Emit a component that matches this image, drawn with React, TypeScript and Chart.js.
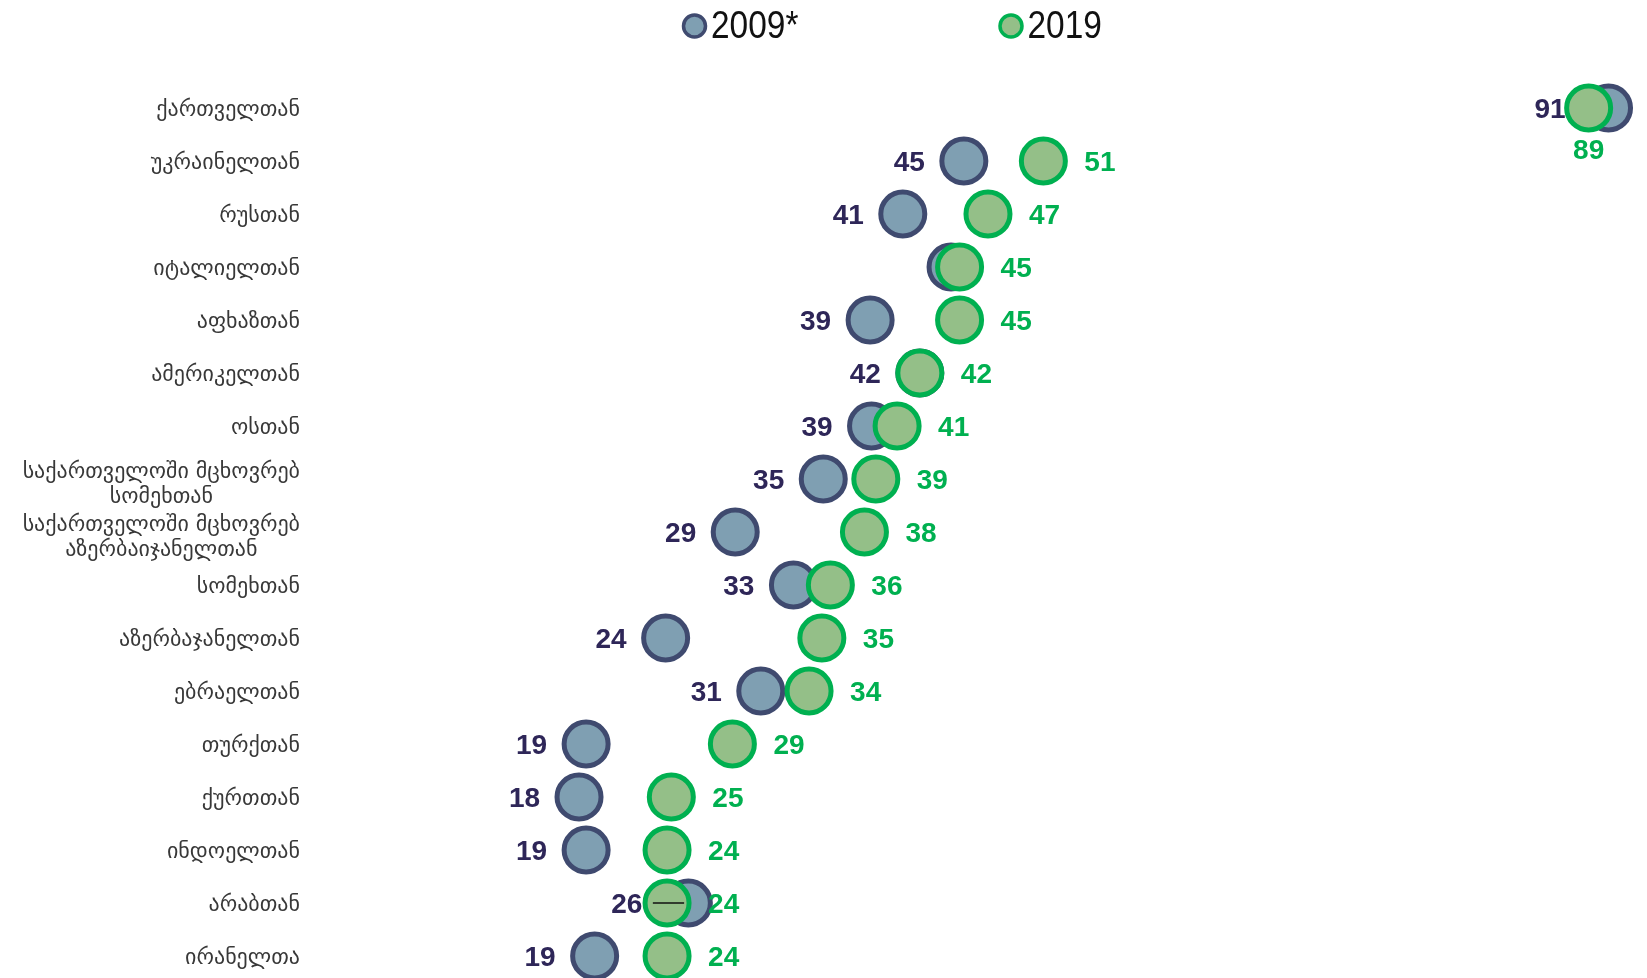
import React, { useEffect, useRef } from "react";
import { Chart, registerables } from "chart.js";

Chart.register(...registerables);

// ---- data ----
const categories: string[] = [
  "ქართველთან",
  "უკრაინელთან",
  "რუსთან",
  "იტალიელთან",
  "აფხაზთან",
  "ამერიკელთან",
  "ოსთან",
  "საქართველოში მცხოვრებ\nსომეხთან",
  "საქართველოში მცხოვრებ\nაზერბაიჯანელთან",
  "სომეხთან",
  "აზერბაჯანელთან",
  "ებრაელთან",
  "თურქთან",
  "ქურთთან",
  "ინდოელთან",
  "არაბთან",
  "ირანელთა",
];

const seriesNames = ["2009*", "2019"];

const values2009: number[] = [
  90.6, 45.2, 40.9, 44.3, 38.6, 42.1, 38.7, 35.3, 29.1, 33.2, 24.2, 30.9, 18.6, 18.1, 18.6, 25.8, 19.2,
];
const values2019: number[] = [
  89.2, 50.8, 46.9, 44.9, 44.9, 42.1, 40.5, 39.0, 38.2, 35.8, 35.2, 34.3, 28.9, 24.6, 24.3, 24.3, 24.3,
];

// labels that are not shown / shown below the marker / nudged left
const hideLabel2009: string[] = ["იტალიელთან"];
const labelBelow2019: string[] = ["ქართველთან"];
const nudgedLabels2009: string[] = ["ქართველთან", "არაბთან"];
const nudgeAmounts2009: number[] = [4, 7];

// small black stroke in the "არაბთან" row
const connectorCategory = "არაბთან";
const connectorFrom = 23.3;
const connectorTo = 25.5;

// ---- styles ----
const FILL_2009 = "#7f9fb2";
const BORDER_2009 = "#3f4a6f";
const TEXT_2009 = "#2e2658";
const FILL_2019 = "#94bf88";
const BORDER_2019 = "#00b050";
const TEXT_2019 = "#00b050";
const NUM_FONT = 'bold 28px "Liberation Sans", sans-serif';
const NUM_SX = 1;
const CAT_FONT = '22px "DejaVu Sans", sans-serif';
const LEGEND_FONT = '38px "Liberation Sans", sans-serif';
const LEGEND_SX = 0.88;

function drawScaled(
  ctx: CanvasRenderingContext2D,
  text: string,
  x: number,
  y: number,
  align: CanvasTextAlign,
  sx: number
) {
  ctx.save();
  ctx.translate(x, y);
  ctx.scale(sx, 1);
  ctx.textAlign = align;
  ctx.fillText(text, 0, 0);
  ctx.restore();
}

const customPlugin = {
  id: "customDraw",
  afterDatasetDraw(chart: any, args: any) {
    const ds = chart.data.datasets[args.index];
    const meta = args.meta;
    const ctx: CanvasRenderingContext2D = chart.ctx;
    if (ds.label === seriesNames[0]) {
      ctx.save();
      ctx.font = NUM_FONT;
      ctx.fillStyle = TEXT_2009;
      ctx.textBaseline = "middle";
      meta.data.forEach((pt: any, i: number) => {
        if (hideLabel2009.includes(categories[i])) return;
        const k = nudgedLabels2009.indexOf(categories[i]);
        const nudge = k >= 0 ? nudgeAmounts2009[k] : 0;
        drawScaled(ctx, String(Math.round(values2009[i])), pt.x - 39 - nudge, pt.y + 2, "right", NUM_SX);
      });
      ctx.restore();
    } else if (ds.label === seriesNames[1]) {
      ctx.save();
      ctx.font = NUM_FONT;
      ctx.fillStyle = TEXT_2019;
      ctx.textBaseline = "middle";
      meta.data.forEach((pt: any, i: number) => {
        const txt = String(Math.round(values2019[i]));
        if (labelBelow2019.includes(categories[i])) {
          drawScaled(ctx, txt, pt.x, pt.y + 43, "center", NUM_SX);
        } else {
          drawScaled(ctx, txt, pt.x + 41, pt.y + 2, "left", NUM_SX);
        }
      });
      ctx.restore();
    }
  },
  afterDraw(chart: any) {
    const ctx: CanvasRenderingContext2D = chart.ctx;
    const yScale = chart.scales.y;
    // category labels: block right-aligned, lines centered within block
    ctx.save();
    ctx.font = CAT_FONT;
    ctx.fillStyle = "#383838";
    ctx.textBaseline = "middle";
    ctx.textAlign = "center";
    const right = 292;
    const lineH = 25;
    categories.forEach((c, i) => {
      const lines = c.split("\n");
      const w = Math.max(...lines.map((l) => ctx.measureText(l).width));
      const cx = right - w / 2;
      const yc = yScale.getPixelForValue(i) + (lines.length > 1 ? 5.5 : 2);
      lines.forEach((l, k) => {
        const y = yc + (k - (lines.length - 1) / 2) * lineH;
        ctx.fillText(l, cx, y);
      });
    });
    ctx.restore();

    // legend
    const items = [
      { text: seriesNames[0], fill: FILL_2009, border: BORDER_2009, cx: 686.5 },
      { text: seriesNames[1], fill: FILL_2019, border: BORDER_2019, cx: 1003 },
    ];
    ctx.save();
    items.forEach((it) => {
      ctx.beginPath();
      ctx.arc(it.cx, 18, 11, 0, Math.PI * 2);
      ctx.fillStyle = it.fill;
      ctx.fill();
      ctx.lineWidth = 3.5;
      ctx.strokeStyle = it.border;
      ctx.stroke();
      ctx.font = LEGEND_FONT;
      ctx.fillStyle = "#111";
      ctx.textBaseline = "alphabetic";
      drawScaled(ctx, it.text, it.cx + 16.5, 29.5, "left", LEGEND_SX);
    });
    ctx.restore();
  },
};

export default function App() {
  const ref = useRef<HTMLCanvasElement | null>(null);
  useEffect(() => {
    if (!ref.current) return;
    const connRow = categories.indexOf(connectorCategory);
    const chart = new Chart(ref.current, {
      type: "scatter",
      data: {
        datasets: [
          {
            label: seriesNames[0],
            data: values2009.map((v, i) => ({ x: v, y: i })),
            backgroundColor: FILL_2009,
            borderColor: BORDER_2009,
            borderWidth: 5,
            pointRadius: 22,
            pointHoverRadius: 22,
            order: 3,
            clip: false as any,
          },
          {
            label: seriesNames[1],
            data: values2019.map((v, i) => ({ x: v, y: i })),
            backgroundColor: FILL_2019,
            borderColor: BORDER_2019,
            borderWidth: 5,
            pointRadius: 22,
            pointHoverRadius: 22,
            order: 2,
            clip: false as any,
          },
          {
            label: "connector",
            data: [
              { x: connectorFrom, y: connRow },
              { x: connectorTo, y: connRow },
            ],
            showLine: true,
            borderColor: "#111",
            borderWidth: 1.3,
            pointRadius: 0,
            order: 1,
            clip: false as any,
          } as any,
        ],
      },
      options: {
        animation: false,
        responsive: true,
        maintainAspectRatio: false,
        events: [],
        layout: {
          autoPadding: false,
          padding: { top: 100, bottom: 22, left: 0, right: 10.6 },
        },
        plugins: {
          legend: { display: false },
          tooltip: { enabled: false },
        },
        scales: {
          x: {
            type: "linear",
            min: 0,
            max: 92,
            display: false,
          },
          y: {
            type: "linear",
            reverse: true,
            min: 0,
            max: categories.length - 1,
            grid: { display: false },
            border: { display: false },
            ticks: { display: false },
            afterFit: (scale: any) => {
              scale.width = 314;
            },
          },
        },
      },
      plugins: [customPlugin],
    });
    return () => chart.destroy();
  }, []);
  return (
    <div
      style={{
        position: "fixed",
        left: 8,
        top: 8,
        width: 1631,
        height: 970,
      }}
    >
      <canvas ref={ref} />
    </div>
  );
}
